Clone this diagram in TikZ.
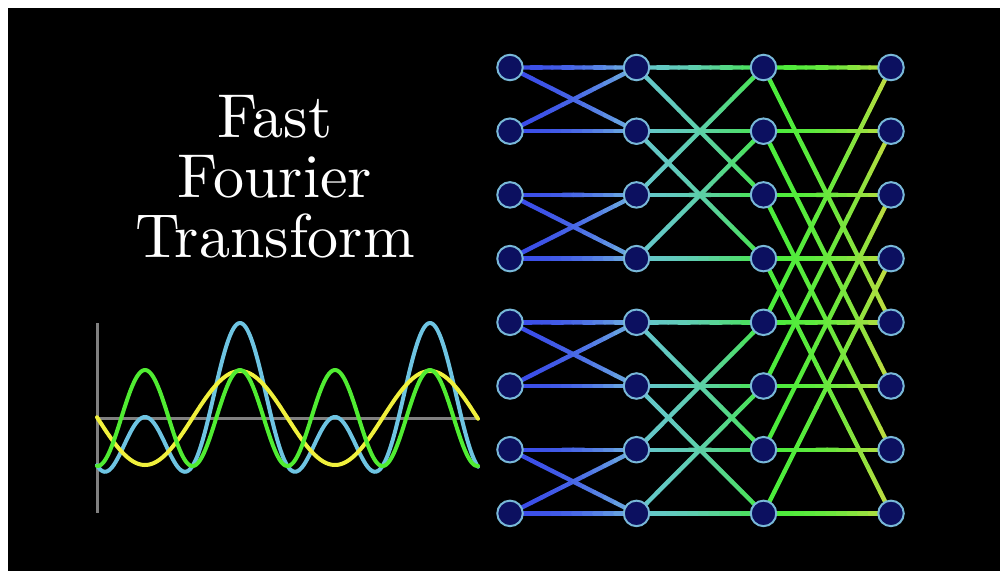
\documentclass[tikz,border=0pt]{standalone}
\usepackage{fontspec}
\newfontfamily\titlefont{lmroman10-regular}[Extension=.otf]
\usetikzlibrary{calc}
\definecolor{nodefill}{RGB}{12,16,96}
\definecolor{nodeline}{RGB}{120,184,216}
\definecolor{sAa}{RGB}{58,76,232}
\definecolor{sAb}{RGB}{110,176,224}
\definecolor{sBa}{RGB}{100,200,200}
\definecolor{sBb}{RGB}{72,228,80}
\definecolor{sCa}{RGB}{76,236,60}
\definecolor{sCb}{RGB}{184,220,64}
\definecolor{wcyan}{RGB}{110,196,226}
\definecolor{wgreen}{RGB}{80,236,50}
\definecolor{wyellow}{RGB}{240,240,60}
\definecolor{axisgray}{RGB}{128,128,128}
\pgfdeclarelayer{front}
\pgfsetlayers{main,front}
\tikzset{
  fftnode/.style={circle, fill=nodefill, draw=nodeline, line width=2pt, minimum size=25.5pt, inner sep=0pt},
  edgeline/.style={line width=4.4pt, line cap=round},
  titletext/.style={text=white, font=\titlefont\fontsize{62}{60}\selectfont, anchor=base, inner sep=0pt},
  axisline/.style={draw=axisgray, line width=3pt},
  wave/.style={line width=4pt, line cap=round},
}
\newcommand\gedge[4]{%
  \foreach \k in {0,...,11}{%
    \pgfmathsetmacro\ta{\k/12}%
    \pgfmathsetmacro\tb{(\k+1)/12}%
    \pgfmathtruncatemacro\pct{100-(\k/11)^2*100}%
    \draw[edgeline, color=#3!\pct!#4] ($(#1.center)!\ta!(#2.center)$) -- ($(#1.center)!\tb!(#2.center)$);
  }%
}
\begin{document}
\begin{tikzpicture}[x=1pt,y=-1pt]
\useasboundingbox (0,0) rectangle (1000,571);
\fill[white] (0,0) rectangle (1000,571);
\fill[black] (8,8) rectangle (1000,571);

% title
\node[titletext] (t1) at (275,137) {Fast};
\node[titletext] (t2) at (275,197) {Fourier};
\node[titletext] (t3) at (275,257) {Transform};

% axes
\coordinate (ax0) at (97,418);
\coordinate (axt) at (97,323);
\coordinate (axb) at (97,513);
\coordinate (axr) at (478,418);
\draw[axisline] (axt) -- (axb);
\draw[axisline] (ax0) -- (axr);

% waves
\draw[wave, wcyan] plot[domain=97:478, samples=300, smooth]
  (\x, {418-47*cos((\x-240)/190*360)-48*cos((\x-240)/95*360)});
\draw[wave, wyellow] plot[domain=97:478, samples=200, smooth]
  (\x, {418-47*cos((\x-240)/190*360)});
\draw[wave, wgreen] plot[domain=97:478, samples=300, smooth]
  (\x, {418-48*cos((\x-240)/95*360)});

% nodes
\begin{pgfonlayer}{front}
\foreach \c/\xx in {0/510,1/636.5,2/763.5,3/891}{
  \foreach \r in {0,...,7}{
    \node[fftnode] (n\c\r) at (\xx,{67.5+63.7*\r}) {};
  }
}
\end{pgfonlayer}

% stage 1
\foreach \i in {0,2,4,6}{
  \pgfmathtruncatemacro\j{\i+1}
  \gedge{n0\i}{n1\i}{sAa}{sAb}
  \gedge{n0\j}{n1\j}{sAa}{sAb}
  \gedge{n0\i}{n1\j}{sAa}{sAb}
  \gedge{n0\j}{n1\i}{sAa}{sAb}
}
% stage 2
\foreach \i in {0,1,4,5}{
  \pgfmathtruncatemacro\j{\i+2}
  \gedge{n1\i}{n2\i}{sBa}{sBb}
  \gedge{n1\j}{n2\j}{sBa}{sBb}
  \gedge{n1\i}{n2\j}{sBa}{sBb}
  \gedge{n1\j}{n2\i}{sBa}{sBb}
}
% stage 3
\foreach \i in {0,1,2,3}{
  \pgfmathtruncatemacro\j{\i+4}
  \gedge{n2\i}{n3\i}{sCa}{sCb}
  \gedge{n2\j}{n3\j}{sCa}{sCb}
  \gedge{n2\i}{n3\j}{sCa}{sCb}
  \gedge{n2\j}{n3\i}{sCa}{sCb}
}
\end{tikzpicture}
\end{document}
